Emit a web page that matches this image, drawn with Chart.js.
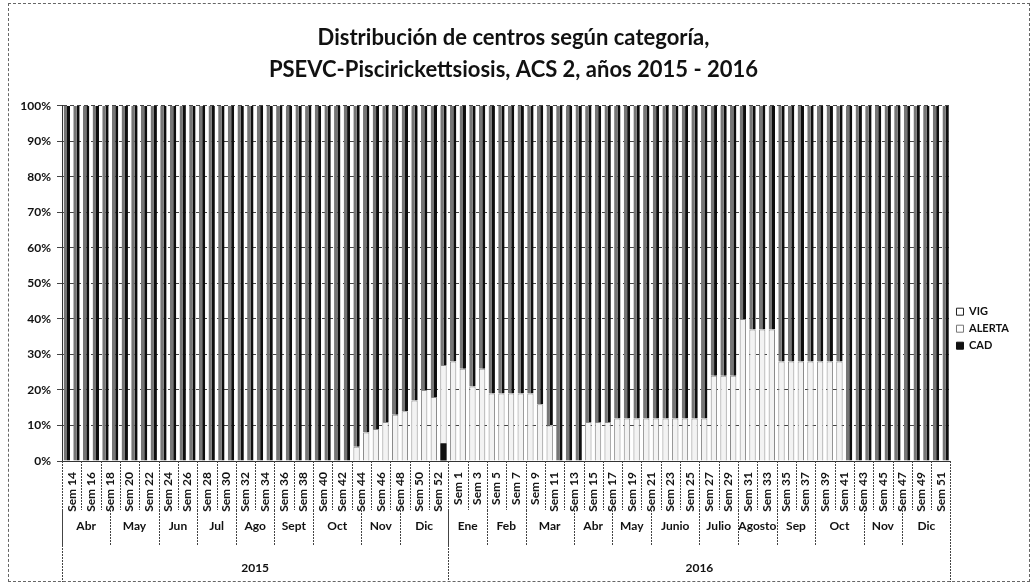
<!DOCTYPE html>
<html><head><meta charset="utf-8">
<script src="https://cdn.jsdelivr.net/npm/chart.js@4"></script>
<style>
html,body{margin:0;padding:0;background:#fff;}
#wrap{position:relative;width:1036px;height:585px;}
#frame{position:absolute;left:8px;top:3px;width:1022px;height:579px;border:1px dashed #666;box-sizing:border-box;pointer-events:none;}
canvas{display:block;}
</style></head><body>
<div id="wrap"><canvas id="c" width="1036" height="585" style="width:1036px;height:585px"></canvas><div id="frame"></div></div>
<script>
const titleLines = ['Distribución de centros según categoría,', 'PSEVC-Piscirickettsiosis, ACS 2, años 2015 - 2016'];
const weeks2015 = [14,15,16,17,18,19,20,21,22,23,24,25,26,27,28,29,30,31,32,33,34,35,36,37,38,39,40,41,42,43,44,45,46,47,48,49,50,51,52,53];
const weeks2016 = [1,2,3,4,5,6,7,8,9,10,11,12,13,14,15,16,17,18,19,20,21,22,23,24,25,26,27,28,29,30,31,32,33,34,35,36,37,38,39,40,41,42,43,44,45,46,47,48,49,50,51,52];
// percentage of centres in ALERTA / CAD per week (VIG is the remainder to 100%)
const alerta2015 = [0,0,0,0,0,0,0,0,0,0, 0,0,0,0,0,0,0,0,0,0, 0,0,0,0,0,0,0,0,0,0, 4,8,9,11,13,14,17,20,18,22];
const cad2015    = [0,0,0,0,0,0,0,0,0,0, 0,0,0,0,0,0,0,0,0,0, 0,0,0,0,0,0,0,0,0,0, 0,0,0,0,0,0,0,0,0,5];
const alerta2016 = [28,26,21,26,19,19,19,19,19,16, 10,0,0,0,11,11,11,12,12,12, 12,12,12,12,12,12,12,24,24,24, 40,37,37,37,28,28,28,28,28,28, 28,0,0,0,0,0,0,0,0,0, 0,0];
const cad2016    = [0,0,0,0,0,0,0,0,0,0, 0,0,0,0,0,0,0,0,0,0, 0,0,0,0,0,0,0,0,0,0, 0,0,0,0,0,0,0,0,0,0, 0,0,0,0,0,0,0,0,0,0, 0,0];
const months2015 = ['Abr','May','Jun','Jul','Ago','Sept','Oct','Nov','Dic'];
const monthWeeks2015 = [5,5,4,4,4,4,5,4,5];
const months2016 = ['Ene','Feb','Mar','Abr','May','Junio','Julio','Agosto','Sep','Oct','Nov','Dic'];
const monthWeeks2016 = [4,4,5,4,4,5,4,4,4,5,4,5];
const years = ['2015','2016'];
const yTicks = [0,10,20,30,40,50,60,70,80,90,100];

const labels = weeks2015.map(w => 'Sem ' + w).concat(weeks2016.map(w => 'Sem ' + w));
const alerta = alerta2015.concat(alerta2016);
const cad = cad2015.concat(cad2016);
const vig = alerta.map((a, i) => 100 - a - cad[i]);

const FONT = 'Lato';

const groupAxis = {
  id: 'groupAxis',
  afterDraw(chart) {
    const x = chart.scales.x, ctx = chart.ctx;
    const half = (x.getPixelForValue(1) - x.getPixelForValue(0)) / 2;
    const edge = k => x.getPixelForValue(k) - half;
    const top = chart.chartArea.bottom;
    ctx.save();
    ctx.strokeStyle = '#444'; ctx.lineWidth = 1; ctx.setLineDash([2, 1]);
    const line = (px, y1, y2) => { ctx.beginPath(); ctx.moveTo(Math.round(px) + 0.5, y1); ctx.lineTo(Math.round(px) + 0.5, y2); ctx.stroke(); };
    for (let k = 0; k <= labels.length; k += 2) line(edge(k), top, 510);
    ctx.fillStyle = '#111'; ctx.font = 'bold 12px ' + FONT; ctx.textAlign = 'center'; ctx.textBaseline = 'middle';
    const groups = [[months2015, monthWeeks2015], [months2016, monthWeeks2016]];
    let k = 0;
    const yearEdges = [0];
    groups.forEach(([names, counts], g) => {
      const start = k;
      names.forEach((n, j) => {
        const a = k, b = k + counts[j];
        line(edge(a), 510, 545);
        ctx.fillText(n, (edge(a) + edge(b)) / 2, 526);
        k = b;
      });
      yearEdges.push(k);
      ctx.fillText(years[g], (edge(start) + edge(k)) / 2, 568);
    });
    yearEdges.forEach(e => line(edge(e), top, 582));
    ctx.restore();
  }
};

new Chart(document.getElementById('c'), {
  type: 'bar',
  data: {
    labels: labels,
    datasets: [
      { label: 'CAD', data: cad, backgroundColor: '#111', borderWidth: 0, barPercentage: 0.66, categoryPercentage: 1 },
      { label: 'ALERTA', data: alerta, backgroundColor: '#f3f3f3', borderColor: '#8a8a8a', borderWidth: { left: 1, right: 1, top: 1, bottom: 0 }, borderSkipped: false, barPercentage: 0.66, categoryPercentage: 1 },
      { label: 'VIG', data: vig, backgroundColor: '#767676', borderColor: '#0e0e0e', borderWidth: { left: 0, right: 3, top: 0, bottom: 0 }, borderSkipped: false, barPercentage: 0.66, categoryPercentage: 1 }
    ]
  },
  options: {
    responsive: false,
    animation: false,
    layout: { padding: { left: 8, right: 17, top: 0, bottom: 0 } },
    plugins: {
      title: { display: true, text: titleLines, color: '#111', font: { family: FONT, size: 22, weight: 'bold', lineHeight: 1.45 }, padding: { top: 22, bottom: 20 } },
      legend: {
        position: 'right', reverse: true, align: 'center',
        title: { display: true, text: ' ', padding: { top: 0, bottom: 58 }, font: { size: 12 } },
        labels: {
          boxWidth: 7, boxHeight: 7, padding: 6, color: '#111',
          font: { family: FONT, size: 11, weight: 'bold' },
          generateLabels(chart) {
            const items = Chart.defaults.plugins.legend.labels.generateLabels(chart);
            items.forEach(it => {
              const l = chart.data.datasets[it.datasetIndex].label;
              it.lineWidth = 1;
              if (l === 'CAD') { it.fillStyle = '#111'; it.strokeStyle = '#111'; }
              else if (l === 'ALERTA') { it.fillStyle = '#fff'; it.strokeStyle = '#777'; }
              else { it.fillStyle = '#fff'; it.strokeStyle = '#222'; }
            });
            return items;
          }
        }
      },
      tooltip: { enabled: false }
    },
    scales: {
      x: {
        stacked: true,
        grid: { display: false },
        border: { display: true, color: '#333' },
        ticks: {
          autoSkip: false, maxRotation: 90, minRotation: 90, labelOffset: 4.8, padding: 3,
          color: '#111', font: { family: FONT, size: 12, weight: 'bold' },
          callback: (v, i) => (i % 2 === 0 ? labels[i] : '')
        },
        afterFit: s => { s.height = 124; }
      },
      y: {
        stacked: true, min: 0, max: 100,
        afterBuildTicks: s => { s.ticks = yTicks.map(v => ({ value: v })); },
        ticks: { callback: v => v + '%', color: '#111', padding: 6, font: { family: FONT, size: 12, weight: 'bold' } },
        grid: { color: '#444', tickLength: 5, lineWidth: 1 },
        border: { display: true, color: '#333', dash: [4, 3] },
        afterFit: s => { s.width = 54; }
      }
    }
  },
  plugins: [groupAxis]
});
</script>
</body></html>
